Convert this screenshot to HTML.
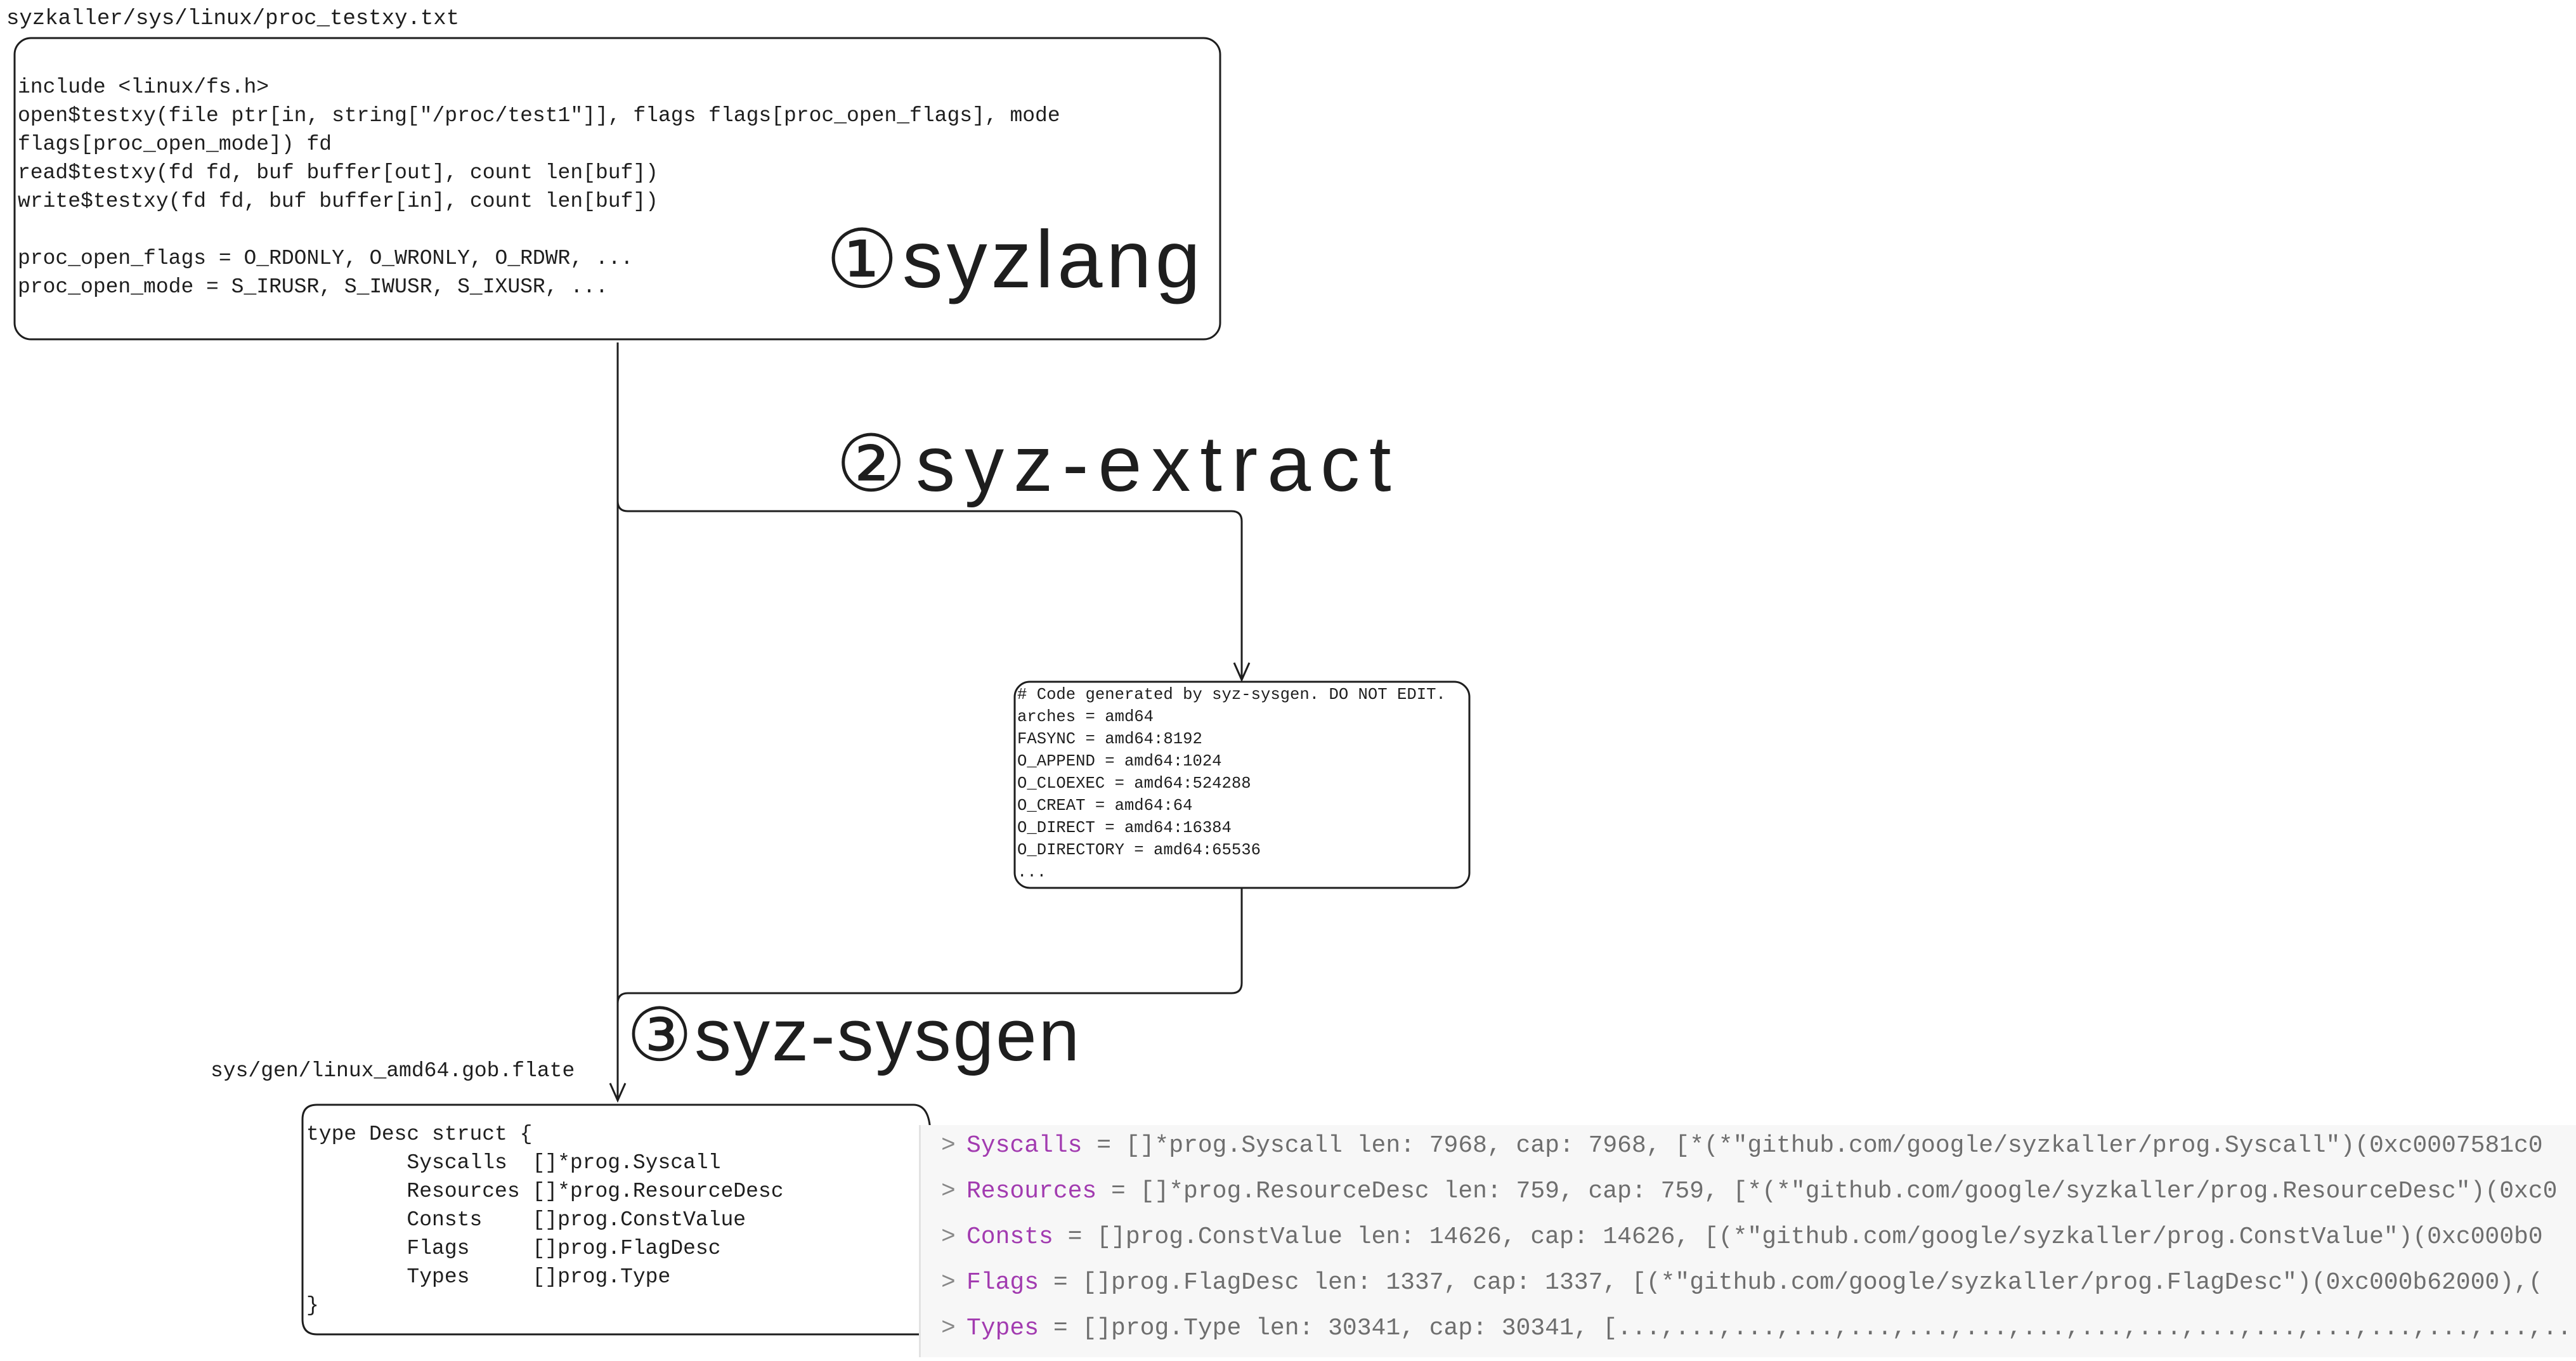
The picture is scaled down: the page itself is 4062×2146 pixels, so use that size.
<!DOCTYPE html>
<html><head><meta charset="utf-8"><style>
html,body{margin:0;padding:0;background:#fff;}
body{width:4062px;height:2146px;position:relative;overflow:hidden;font-family:"Liberation Mono",monospace;color:#1e1e1e;}
.t{position:absolute;white-space:pre;line-height:1;}
.code{position:absolute;white-space:pre;font-size:33px;line-height:45px;}
.big{position:absolute;white-space:pre;font-family:"Liberation Sans",sans-serif;color:#1e1e1e;}
.panel{position:absolute;left:1449px;top:1774px;width:2613px;height:366px;background:#f7f7f7;border-left:3px solid #e2e2e2;}
.pl{position:absolute;left:72px;white-space:pre;font-size:38px;color:#6e6e6e;line-height:1;}
.pl b{font-weight:normal;color:#a23bb0;}
.pl i{font-style:normal;color:#888;position:absolute;left:-40px;}
</style></head><body>
<svg width="4062" height="2146" style="position:absolute;left:0;top:0">
<g fill="none" stroke="#1e1e1e" stroke-width="3">
<rect x="23" y="60" width="1901" height="475" rx="26"/>
<rect x="1600" y="1075" width="717" height="325" rx="24"/>
<path d="M1467 1790 Q1467 1742 1440 1742 L500 1742 Q477 1742 477 1765 L477 2080 Q477 2104 500 2104 L1467 2104"/>
<path d="M974 540 L974 1733"/>
<path d="M974 790 Q974 806 990 806 L1942 806 Q1958 806 1958 822 L1958 1070"/>
<path d="M1958 1400 L1958 1550 Q1958 1566 1942 1566 L990 1566 Q974 1566 974 1582"/>
<path d="M962 1708 L974 1735 L986 1708"/>
<path d="M1946 1045 L1958 1072 L1970 1045"/>
</g>
</svg>
<div class="t" style="left:10px;top:13px;font-size:34px;">syzkaller/sys/linux/proc_testxy.txt</div>
<div class="code" style="left:28px;top:115px;">include &lt;linux/fs.h&gt;
open$testxy(file ptr[in, string["/proc/test1"]], flags flags[proc_open_flags], mode
flags[proc_open_mode]) fd
read$testxy(fd fd, buf buffer[out], count len[buf])
write$testxy(fd fd, buf buffer[in], count len[buf])

proc_open_flags = O_RDONLY, O_WRONLY, O_RDWR, ...
proc_open_mode = S_IRUSR, S_IWUSR, S_IXUSR, ...</div>
<div class="big" style="left:1302px;top:335px;font-size:128px;letter-spacing:6px;">①syzlang</div>
<div class="big" style="left:1318px;top:660px;font-size:124px;letter-spacing:15px;">②syz-extract</div>
<div class="code" style="left:1604px;top:1078px;font-size:25.6px;line-height:35px;"># Code generated by syz-sysgen. DO NOT EDIT.
arches = amd64
FASYNC = amd64:8192
O_APPEND = amd64:1024
O_CLOEXEC = amd64:524288
O_CREAT = amd64:64
O_DIRECT = amd64:16384
O_DIRECTORY = amd64:65536
...</div>
<div class="big" style="left:988px;top:1565px;font-size:116px;letter-spacing:3px;">③syz-sysgen</div>
<div class="t" style="left:332px;top:1672px;font-size:33px;">sys/gen/linux_amd64.gob.flate</div>
<div class="code" style="left:483px;top:1766px;">type Desc struct {
        Syscalls  []*prog.Syscall
        Resources []*prog.ResourceDesc
        Consts    []prog.ConstValue
        Flags     []prog.FlagDesc
        Types     []prog.Type
}</div>
<div class="panel">
<div class="pl" style="top:14px;"><i>&gt;</i><b>Syscalls</b> = []*prog.Syscall len: 7968, cap: 7968, [*(*"github.com/google/syzkaller/prog.Syscall")(0xc0007581c0</div>
<div class="pl" style="top:86px;"><i>&gt;</i><b>Resources</b> = []*prog.ResourceDesc len: 759, cap: 759, [*(*"github.com/google/syzkaller/prog.ResourceDesc")(0xc0</div>
<div class="pl" style="top:158px;"><i>&gt;</i><b>Consts</b> = []prog.ConstValue len: 14626, cap: 14626, [(*"github.com/google/syzkaller/prog.ConstValue")(0xc000b0</div>
<div class="pl" style="top:230px;"><i>&gt;</i><b>Flags</b> = []prog.FlagDesc len: 1337, cap: 1337, [(*"github.com/google/syzkaller/prog.FlagDesc")(0xc000b62000),(</div>
<div class="pl" style="top:302px;"><i>&gt;</i><b>Types</b> = []prog.Type len: 30341, cap: 30341, [...,...,...,...,...,...,...,...,...,...,...,...,...,...,...,...,...,</div>
</div>
</body></html>
